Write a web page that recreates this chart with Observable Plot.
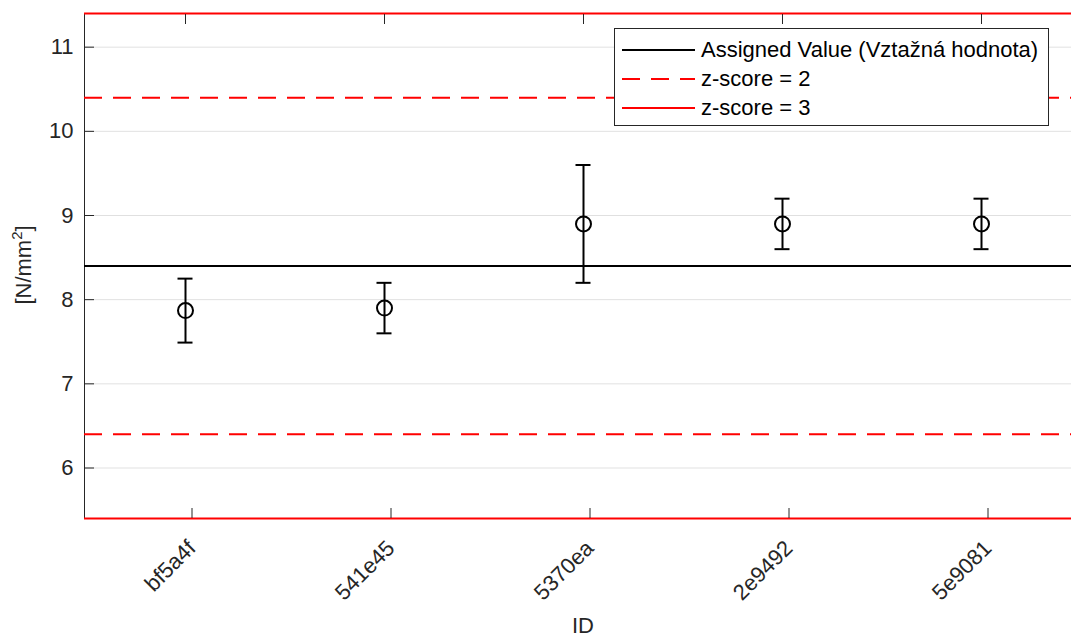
<!DOCTYPE html>
<html><head><meta charset="utf-8">
<script src="https://cdn.jsdelivr.net/npm/d3@7"></script>
<script src="https://cdn.jsdelivr.net/npm/@observablehq/plot@0.6"></script>
<style>
html,body{margin:0;padding:0;background:#fff;overflow:hidden}
#wrap{position:relative;width:1071px;height:637px;overflow:hidden}
#legend{position:absolute;left:614px;top:28px;width:435px;height:98px;border:1px solid #262626;background:#fff;box-sizing:border-box;font:22px "Liberation Sans",Arial,sans-serif;color:#000}
.row{position:absolute;left:0;height:28px;display:flex;align-items:center;white-space:nowrap}
.row svg{margin-left:7px;margin-right:6px}
#ylab{position:absolute;left:24px;top:265px;transform:translate(-50%,-50%) rotate(-90deg);font:22px/1 "Liberation Sans",Arial,sans-serif;color:#262626;white-space:nowrap}
#ylab .sup{font-size:15px;position:relative;top:-9px}
</style></head><body><div id="wrap"><div id="chart"></div><div id="legend"></div><div id="ylab"></div></div>
<script>
const ids = ["bf5a4f", "541e45", "5370ea", "2e9492", "5e9081"];
const means = [7.87, 7.9, 8.9, 8.9, 8.9];
const uncert = [0.38, 0.3, 0.7, 0.3, 0.3];
const assignedValue = 8.4;
const z2Lines = [6.4, 10.4];
const z3Lines = [5.4, 11.4];
const yTicks = [6, 7, 8, 9, 10, 11];
const xLabel = "ID";
const yLabelMain = "[N/mm";
const yLabelSup = "2";
const yLabelEnd = "]";
const legendLabels = ["Assigned Value (Vztažná hodnota)", "z-score = 2", "z-score = 3"];
const legendStyles = [
  {stroke: "#000", dash: null},
  {stroke: "#ff0000", dash: "18,11"},
  {stroke: "#ff0000", dash: null}
];

const rows = ids.map((id, i) => ({id, mean: means[i], lo: means[i] - uncert[i], hi: means[i] + uncert[i]}));
const ink = "#262626";

const chart = Plot.plot({
  width: 1071, height: 637,
  marginLeft: 84, marginRight: -10, marginTop: 13, marginBottom: 119,
  style: {fontFamily: '"Liberation Sans", Arial, sans-serif', fontSize: "22px", color: ink, background: "white", overflow: "hidden"},
  x: {type: "point", domain: ids, padding: 0.5},
  y: {domain: [z3Lines[0], z3Lines[1]]},
  marks: [
    Plot.gridY(yTicks, {stroke: "#000", strokeOpacity: 0.12, strokeWidth: 1}),
    Plot.frame({stroke: ink}),
    Plot.ruleY(z2Lines, {stroke: "#ff0000", strokeWidth: 2, strokeDasharray: "18,11"}),
    Plot.ruleY(z3Lines, {stroke: "#ff0000", strokeWidth: 2}),
    Plot.ruleY([assignedValue], {stroke: "#000", strokeWidth: 2}),
    Plot.ruleX(rows, {x: "id", y1: "lo", y2: "hi", stroke: "#000", strokeWidth: 2}),
    Plot.ruleY(rows, {y: "hi", x1: "id", x2: "id", insetLeft: -7.5, insetRight: -7.5, stroke: "#000", strokeWidth: 2}),
    Plot.ruleY(rows, {y: "lo", x1: "id", x2: "id", insetLeft: -7.5, insetRight: -7.5, stroke: "#000", strokeWidth: 2}),
    Plot.dot(rows, {x: "id", y: "mean", r: 7.5, stroke: "#000", strokeWidth: 2, fill: "none"}),
    Plot.axisY(yTicks, {tickSize: -10, tickPadding: 21, tickFormat: d3.format("d"), stroke: ink, fill: ink, label: null}),
    Plot.axisX({anchor: "bottom", tickSize: -10, tickPadding: 36, tickRotate: -45, dx: 6.5, stroke: ink, fill: ink, label: null}),
    Plot.axisX({anchor: "top", tickSize: -10, tickFormat: () => "", stroke: ink, label: null}),
    Plot.text([xLabel], {frameAnchor: "bottom", dy: 107, lineAnchor: "middle", fill: ink})
  ]
});
document.getElementById("chart").appendChild(chart);

const ylab = document.getElementById("ylab");
ylab.append(yLabelMain);
const sup = document.createElement("span");
sup.className = "sup";
sup.textContent = yLabelSup;
ylab.append(sup, yLabelEnd);

const legend = document.getElementById("legend");
legendLabels.forEach((label, i) => {
  const row = document.createElement("div");
  row.className = "row";
  row.style.top = (7 + 29 * i) + "px";
  const st = legendStyles[i];
  row.innerHTML = `<svg width="73" height="10"><line x1="0" x2="73" y1="5" y2="5" stroke="${st.stroke}" stroke-width="2" ${st.dash ? `stroke-dasharray="${st.dash}"` : ""}/></svg><span>${label}</span>`;
  legend.appendChild(row);
});
</script>
</body></html>
